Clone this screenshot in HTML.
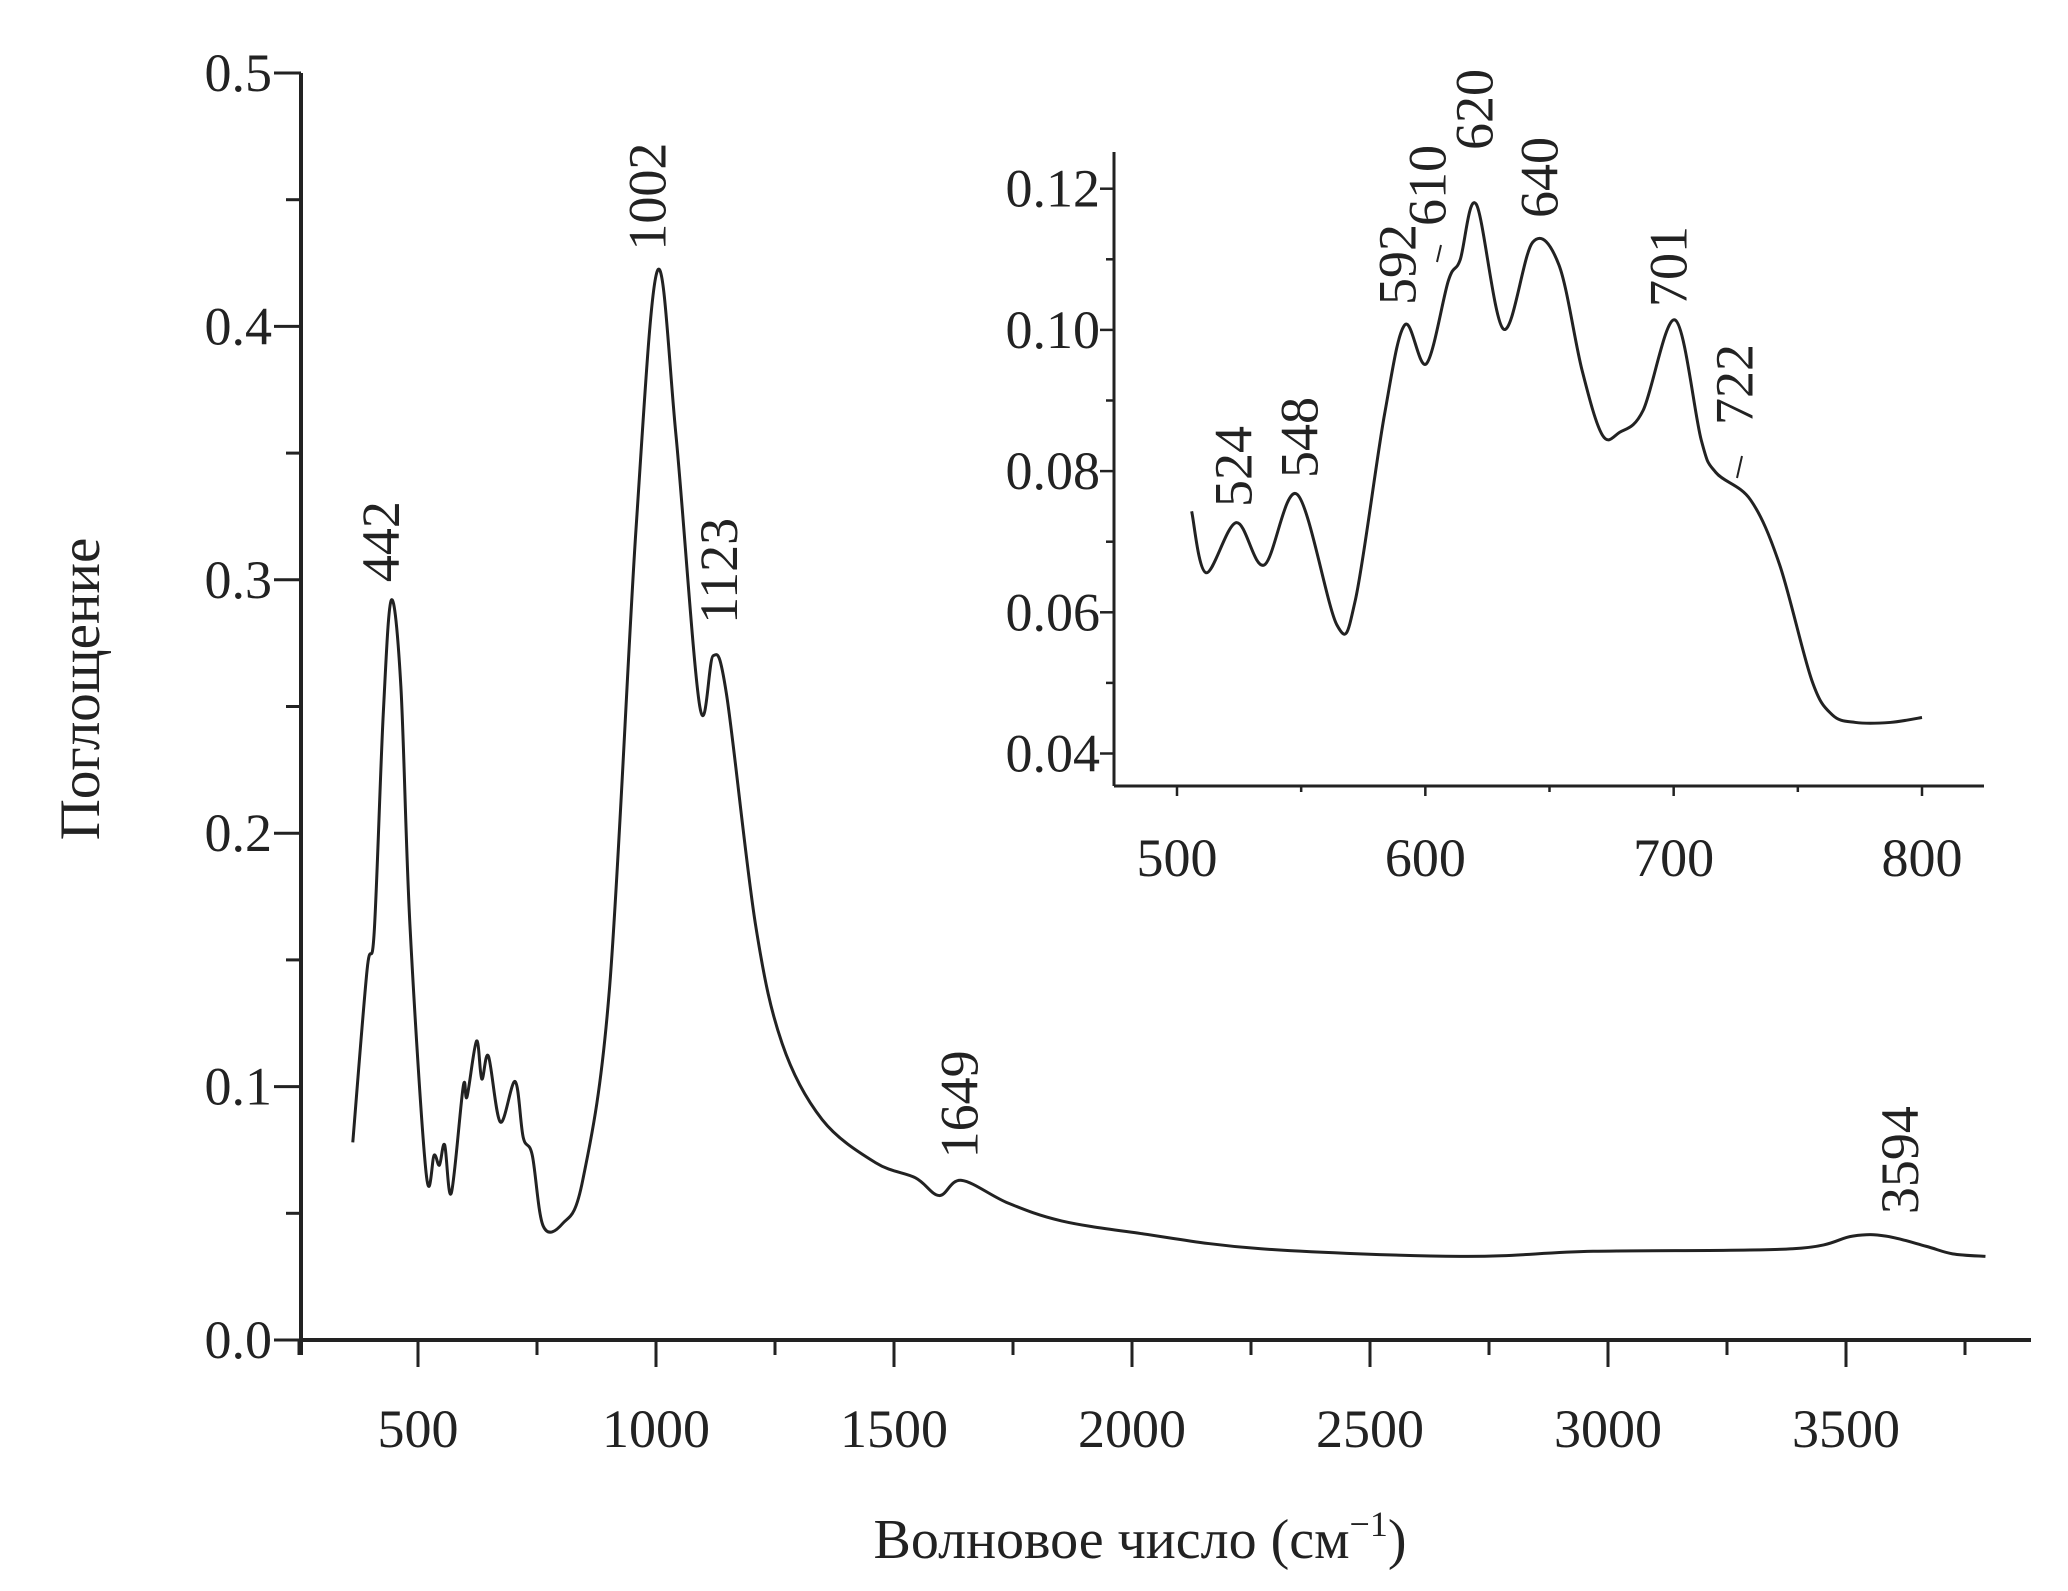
<!DOCTYPE html>
<html><head><meta charset="utf-8"><style>
html,body{margin:0;padding:0;background:#fff;}
svg{display:block;font-family:"Liberation Serif",serif;}
</style></head><body>
<svg id="chart" width="2068" height="1591" viewBox="0 0 2068 1591" xmlns="http://www.w3.org/2000/svg">
<g id="main"></g>
<g id="inset"></g>
<text transform="translate(86,689) rotate(-90)" text-anchor="middle" dominant-baseline="middle" font-size="57" fill="#222">Поглощение</text>
<text x="1140" y="1558" text-anchor="middle" font-size="56" fill="#222">Волновое число (см<tspan dy="-22" font-size="36">−1</tspan><tspan dy="22">)</tspan></text>
</svg>
<script>
const mainX=[363,393,408,427,444,464,483,517,534,545,556,570,595,603,623,634,648,673,704,721,740,763,804,846,902,958,1003,1042,1092,1120,1148,1209,1265,1349,1461,1545,1595,1642,1740,1852,2019,2271,2690,2969,3388,3514,3584,3668,3724,3793];
const mainY=[0.078,0.146,0.161,0.247,0.292,0.258,0.164,0.066,0.073,0.069,0.077,0.058,0.100,0.096,0.118,0.103,0.112,0.086,0.102,0.080,0.073,0.045,0.046,0.063,0.138,0.320,0.422,0.357,0.250,0.270,0.255,0.164,0.117,0.087,0.070,0.064,0.057,0.063,0.054,0.047,0.042,0.036,0.033,0.035,0.036,0.041,0.041,0.037,0.034,0.033];
const mainXTicks=[500,1000,1500,2000,2500,3000,3500];
const mainYTicks=[0.0,0.1,0.2,0.3,0.4,0.5];
const mainPeaks=[442,1002,1123,1649,3594];
const mainPeakVals=[0.292,0.422,0.270,0.063,0.041];
const insetX=[505.9,511.7,523.9,535.1,548.4,564.4,571.8,583.5,591.7,600.4,609.3,614,620.5,631.5,643.2,653.8,663.1,671.3,678.3,687.7,700.6,711.1,717,731,742.7,755.6,763.8,773.2,787.2,800];
const insetY=[0.0743,0.0656,0.0727,0.0667,0.0767,0.0582,0.0617,0.0879,0.1007,0.0952,0.1070,0.1099,0.1178,0.1001,0.1124,0.1092,0.0943,0.0851,0.0855,0.0886,0.1014,0.0844,0.0798,0.0759,0.0667,0.0504,0.0455,0.0444,0.0444,0.0451];
const insetXTicks=[500,600,700,800];
const insetYTicks=[0.04,0.06,0.08,0.10,0.12];
const insetPeaks=[524,548,592,610,620,640,701,722];

const NS="http://www.w3.org/2000/svg";
const C="#222";
function mk(p,tag,a){const e=document.createElementNS(NS,tag);for(const k in a)e.setAttribute(k,a[k]);p.appendChild(e);return e;}
function smooth(pts){let d="M"+pts[0][0]+","+pts[0][1];for(let i=0;i<pts.length-1;i++){const p0=pts[Math.max(0,i-1)],p1=pts[i],p2=pts[i+1],p3=pts[Math.min(pts.length-1,i+2)];const t=6;d+=" C"+(p1[0]+(p2[0]-p0[0])/t)+","+(p1[1]+(p2[1]-p0[1])/t)+" "+(p2[0]-(p3[0]-p1[0])/t)+","+(p2[1]-(p3[1]-p1[1])/t)+" "+p2[0]+","+p2[1];}return d;}

const FS=54;
// main axes
const mg=document.getElementById('main');
const mx=v=>418+(v-500)*238/500;
const my=v=>1340-v*2534;
const L=301,R=2031,B=1340,T=73;
let e;
e=mk(mg,'line',{x1:L,y1:B,x2:R,y2:B,stroke:C,'stroke-width':4});


e=mk(mg,'line',{x1:L,y1:B+15,x2:L,y2:T,stroke:C,'stroke-width':4});


for(let v=250;v<=3750;v+=250){const x=mx(v);const major=v%500===0;
 e=mk(mg,'line',{x1:x,y1:B,x2:x,y2:B+(major?27:15),stroke:C,'stroke-width':3});
 
 }
mainXTicks.forEach(v=>{e=mk(mg,'text',{x:mx(v),y:1447,'text-anchor':'middle','font-size':FS,fill:C});e.textContent=v;
 
 });
for(let i=0;i<=10;i++){const v=i*0.05;const y=my(v);const major=i%2===0;
 e=mk(mg,'line',{x1:L-(major?27:15),y1:y,x2:L,y2:y,stroke:C,'stroke-width':3});
 
 }
mainYTicks.forEach(v=>{e=mk(mg,'text',{x:272,y:my(v)+18,'text-anchor':'end','font-size':FS,fill:C});e.textContent=v.toFixed(1);
 
 });
e=mk(mg,'path',{d:smooth(mainX.map((x,i)=>[mx(x),my(mainY[i])])),fill:'none',stroke:C,'stroke-width':3});


const mainLabelDx={442:-4,1002:-4,1123:10,1649:0,3594:15};
const mainLabelDy={442:18,1002:20,1123:32,1649:22,3594:22};
mainPeaks.forEach((p,i)=>{const x=mx(p)+mainLabelDx[p],y=my(mainPeakVals[i])-mainLabelDy[p];
 e=mk(mg,'text',{transform:`translate(${x},${y}) rotate(-90)`,'dominant-baseline':'middle','font-size':FS,fill:C});e.textContent=p;
 
 });

// inset
const ig=document.getElementById('inset');
const ix=v=>1177+(v-500)*745/300;
const iy=v=>753.5-(v-0.04)*7060;
const IL=1114,IR=1984,IB=786,IT=152;
e=mk(ig,'line',{x1:IL,y1:IB,x2:IR,y2:IB,stroke:C,'stroke-width':3});


e=mk(ig,'line',{x1:IL,y1:IB,x2:IL,y2:IT,stroke:C,'stroke-width':3});


for(let v=500;v<=800;v+=50){const x=ix(v);const major=v%100===0;
 e=mk(ig,'line',{x1:x,y1:IB,x2:x,y2:IB+(major?10:6),stroke:C,'stroke-width':2.5});
 
 }
insetXTicks.forEach(v=>{e=mk(ig,'text',{x:ix(v),y:876,'text-anchor':'middle','font-size':FS,fill:C});e.textContent=v;
 
 });
for(let i=0;i<=8;i++){const v=0.04+i*0.01;const y=iy(v);const major=i%2===0;
 e=mk(ig,'line',{x1:IL-(major?14:8),y1:y,x2:IL,y2:y,stroke:C,'stroke-width':2.5});
 
 }
insetYTicks.forEach(v=>{e=mk(ig,'text',{x:1100,y:iy(v)+18,'text-anchor':'end','font-size':FS,fill:C});e.textContent=v.toFixed(2);
 
 });
e=mk(ig,'path',{d:smooth(insetX.map((x,i)=>[ix(x),iy(insetY[i])])),fill:'none',stroke:C,'stroke-width':3});


const insetLabelY={524:507,548:478,592:305,610:226,620:150,640:218,701:307,722:425};
const insetLabelX={524:1239,548:1305,592:1403,610:1433,620:1480,640:1545,701:1674,722:1740};
insetPeaks.forEach(p=>{
 e=mk(ig,'text',{transform:`translate(${insetLabelX[p]},${insetLabelY[p]}) rotate(-90)`,'dominant-baseline':'middle','font-size':FS,fill:C});e.textContent=p;
 
 });
e=mk(ig,'line',{x1:1437,y1:262,x2:1441,y2:245,stroke:C,'stroke-width':2});


e=mk(ig,'line',{x1:1737,y1:478,x2:1742,y2:456,stroke:C,'stroke-width':2});


</script>
</body></html>
